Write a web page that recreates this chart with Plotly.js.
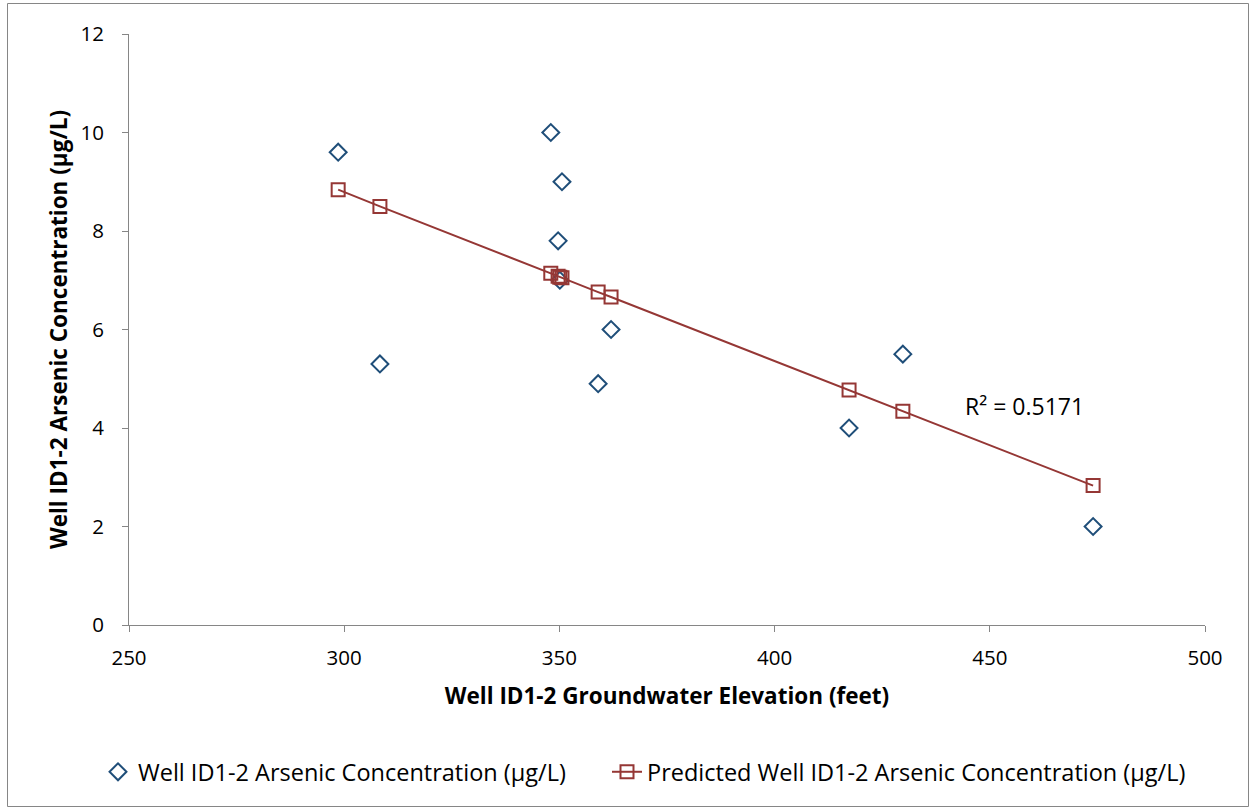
<!DOCTYPE html>
<html>
<head>
<meta charset="utf-8">
<script src="https://cdn.plot.ly/plotly-3.0.1.min.js"></script>
<style>
html,body{margin:0;padding:0;background:#fff;}
#chart{width:1253px;height:810px;}
</style>
</head>
<body>
<div id="chart"></div>
<script>
// Observed data
const elevation = [298.6, 308.3, 348.0, 350.6, 349.7, 350.1, 362.0, 359.0, 417.3, 429.8, 474.0];
const arsenic   = [9.6, 5.3, 10.0, 9.0, 7.8, 7.0, 6.0, 4.9, 4.0, 5.5, 2.0];
// Predicted (trend) values, sorted by elevation
const predElevation = [298.6, 308.3, 348.0, 349.7, 350.1, 350.6, 359.0, 362.0, 417.3, 429.8, 474.0];
const predArsenic   = [8.84, 8.50, 7.14, 7.08, 7.06, 7.05, 6.76, 6.66, 4.77, 4.34, 2.83];
const seriesNames = ["Well ID1-2 Arsenic Concentration (µg/L)", "Predicted Well ID1-2 Arsenic Concentration (µg/L)"];
const xTicks = [250, 300, 350, 400, 450, 500];
const yTicks = [0, 2, 4, 6, 8, 10, 12];
const r2Label = "R² = 0.5171";

const FONT = "'Open Sans', Lato, sans-serif";
const FS = 20.5;
const W = 1253, H = 810;
const m = {l:129, r:48, t:34, b:185};
const pw = W - m.l - m.r, ph = H - m.t - m.b;
const px = v => (v - m.l) / pw;
const py = v => (H - m.b - v) / ph;

const traces = [
  {
    x: elevation, y: arsenic, name: seriesNames[0], type: "scatter", mode: "markers",
    legend: "legend",
    marker: {symbol: "diamond-open", size: 13, color: "#1f4e79", line: {width: 2, color: "#1f4e79"}}
  },
  {
    x: predElevation, y: predArsenic, name: seriesNames[1], type: "scatter", mode: "lines+markers",
    legend: "legend2",
    line: {color: "#953735", width: 2},
    marker: {symbol: "square-open", size: 13, color: "#953735", line: {width: 2, color: "#953735"}}
  }
];

const legendFont = {family: FONT, size: 23.5, color: "#000"};

const layout = {
  width: W, height: H,
  margin: m,
  paper_bgcolor: "#fff", plot_bgcolor: "#fff",
  font: {family: FONT, size: FS, color: "#000"},
  showlegend: true,
  legend: {orientation: "h", x: px(98), xanchor: "left", y: py(772), yanchor: "middle", font: legendFont},
  legend2: {orientation: "h", x: px(607), xanchor: "left", y: py(772), yanchor: "middle", font: legendFont},
  xaxis: {
    range: [250, 500], tickvals: xTicks, ticktext: xTicks.map(String),
    showgrid: false, zeroline: false, showline: true, linecolor: "#868686", linewidth: 1,
    ticks: "outside", ticklen: 6, tickcolor: "#868686", ticklabelstandoff: 8,
    tickfont: {family: FONT, size: FS, color: "#000"},
    title: {text: "<b>Well ID1-2 Groundwater Elevation (feet)</b>", font: {family: FONT, size: 22.5, color: "#000"}, standoff: 18}
  },
  yaxis: {
    range: [0, 12], tickvals: yTicks, ticktext: yTicks.map(String),
    showgrid: false, zeroline: false, showline: true, linecolor: "#868686", linewidth: 1,
    ticks: "outside", ticklen: 6, tickcolor: "#868686", ticklabelstandoff: 14,
    tickfont: {family: FONT, size: FS, color: "#000"},
    title: {text: "<b>Well ID1-2 Arsenic Concentration (µg/L)</b>", font: {family: FONT, size: 22.5, color: "#000"}, standoff: 6}
  },
  annotations: [
    {x: 458, y: 4.45, xref: "x", yref: "y", text: r2Label, showarrow: false,
     font: {family: FONT, size: 23, color: "#000"}, xanchor: "center", yanchor: "middle"}
  ],
  shapes: [
    {type: "rect", xref: "paper", yref: "paper", x0: px(7.5), x1: px(1248.5), y0: py(806.5), y1: py(3.5),
     line: {color: "#868686", width: 1}, fillcolor: "rgba(0,0,0,0)", layer: "below"}
  ]
};

Plotly.newPlot("chart", traces, layout, {displayModeBar: false, staticPlot: true});
</script>
</body>
</html>
